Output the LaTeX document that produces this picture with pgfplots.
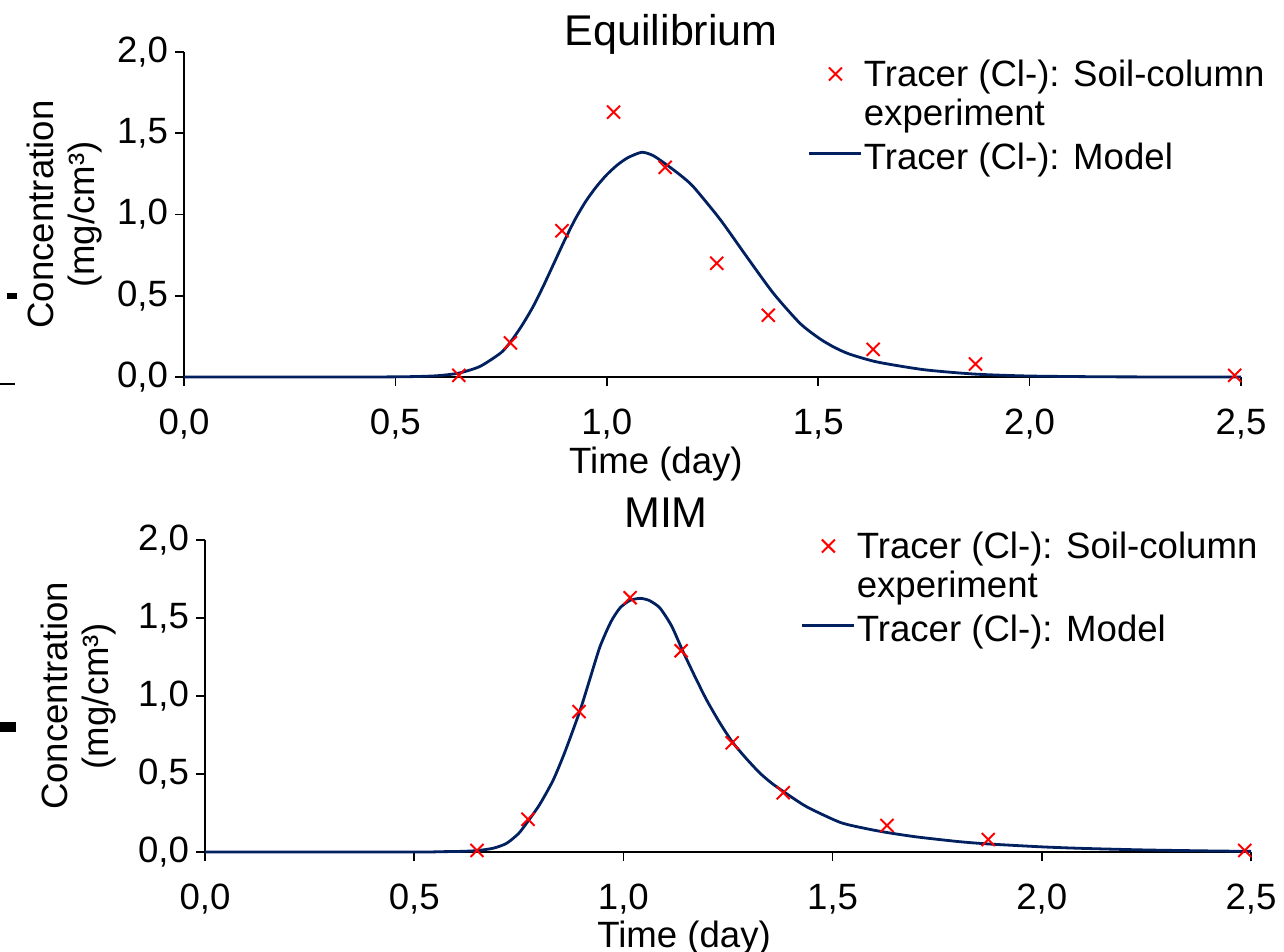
\documentclass[border=0pt]{standalone}
\usepackage{pgfplots}
\pgfplotsset{compat=1.18}
\usepackage{pgfplotstable}
\usepackage{fontspec}
\setmainfont{Liberation Sans}
\definecolor{modelblue}{RGB}{0,32,96}
\definecolor{markred}{RGB}{255,0,0}
\newcommand\ff{\fontsize{18.3}{22}\selectfont}

\pgfplotstableread{
x y
0.650 0.01
0.772 0.21
0.894 0.90
1.016 1.63
1.138 1.29
1.260 0.70
1.382 0.38
1.630 0.17
1.872 0.08
2.485 0.01
}\exptable

\pgfplotstableread{
x y
0.000 0.000
0.400 0.000
0.500 0.001
0.550 0.003
0.600 0.008
0.650 0.024
0.700 0.065
0.750 0.150
0.775 0.225
0.800 0.320
0.825 0.430
0.850 0.560
0.875 0.700
0.900 0.840
0.925 0.970
0.950 1.080
0.975 1.170
1.000 1.245
1.025 1.305
1.050 1.350
1.083 1.383
1.110 1.362
1.142 1.305
1.175 1.240
1.205 1.170
1.268 0.970
1.331 0.740
1.394 0.515
1.457 0.330
1.504 0.235
1.540 0.180
1.575 0.140
1.640 0.092
1.750 0.045
1.870 0.018
2.000 0.006
2.200 0.001
2.500 0.000
}\eqmodel

\pgfplotstableread{
x y
0.000 0.000
0.500 0.000
0.562 0.002
0.610 0.004
0.651 0.009
0.690 0.025
0.721 0.056
0.750 0.120
0.774 0.205
0.800 0.305
0.832 0.460
0.860 0.640
0.896 0.904
0.920 1.110
0.944 1.316
0.970 1.475
0.992 1.565
1.015 1.612
1.040 1.626
1.062 1.612
1.087 1.565
1.115 1.450
1.142 1.288
1.170 1.130
1.199 0.974
1.230 0.830
1.261 0.703
1.295 0.595
1.327 0.504
1.355 0.440
1.385 0.383
1.438 0.290
1.518 0.190
1.580 0.150
1.630 0.125
1.700 0.097
1.800 0.067
1.870 0.052
2.000 0.033
2.100 0.023
2.250 0.013
2.400 0.007
2.500 0.004
}\mimmodel

\pgfplotsset{
  common/.style={
    scale only axis, anchor=south west, clip=false,
    xmin=0, xmax=2.5, ymin=0, ymax=2,
    axis x line*=bottom, axis y line*=left,
    tick align=outside, major tick length=4.5pt,
    xtick={0,0.5,1,1.5,2,2.5}, ytick={0,0.5,1,1.5,2},
    axis line style={line width=0.8pt, black},
    every tick/.style={line width=0.8pt, black},
    tick label style={font=\ff},
    xticklabel style={yshift=-8pt},
    /pgf/number format/use comma,
    /pgf/number format/fixed,
    /pgf/number format/fixed zerofill,
    /pgf/number format/precision=1,
    /pgf/number format/assume math mode=true,
    xlabel={Time (day)},
    ylabel={Concentration\\(mg/cm³)},
    ylabel style={anchor=center, align=center, inner sep=0pt, font=\fontsize{18.3}{20.5}\selectfont},
    title style={anchor=base, inner sep=0pt, font=\fontsize{21.5}{26}\selectfont},
    reverse legend,
    legend cell align=left,
    legend style={draw=none, fill=none, anchor=north west, inner sep=0pt, outer sep=0pt,
      row sep=0pt, column sep=0.5pt, font=\ff, nodes={inner sep=0pt, text depth={}},
      cells={anchor=base west}},
  },
  explegend/.style={legend image code/.code={\draw[##1] plot coordinates {(13pt,6pt)};}},
  modlegend/.style={legend image code/.code={\draw[##1] (0pt,8pt) -- (26pt,8pt);}},
  modelstyle/.style={modelblue, line width=1.4pt, no marks, smooth, tension=0.4, modlegend},
  expstyle/.style={only marks, mark=x, mark size=4.6pt, markred, line width=1pt, explegend},
}

\begin{document}
\begin{tikzpicture}
\path[use as bounding box] (0,0) rectangle (642pt,-476pt);
\fill[black] (3.5pt,-146.5pt) rectangle (8.5pt,-149.5pt);
\fill[black] (0pt,-191.5pt) rectangle (7.5pt,-192.5pt);
\fill[black] (0pt,-361pt) rectangle (8pt,-366pt);

\begin{axis}[common,
  at={(92pt,-188.5pt)}, width=528.5pt, height=162.5pt,
  title={Equilibrium},
  title style={at={(axis description cs:0.461,1)}, yshift=-3pt},
  xlabel style={at={(axis description cs:0.4465,0)}, anchor=base, yshift=-48pt, inner sep=0pt, font=\ff},
  ylabel style={at={(axis description cs:-0.1126,0.5)}},
  legend style={at={(axis description cs:0.5904,0.9815)}},
]
\addplot[modelstyle] table[x=x,y=y] {\eqmodel};
\addlegendentry{\rule{0pt}{17pt}Tracer (Cl-): Model}
\addlegendimage{empty legend}
\addlegendentry{\rule[-5.25pt]{0pt}{19.25pt}experiment}
\addplot[expstyle] table[x=x,y=y] {\exptable};
\addlegendentry{\rule[-5.5pt]{0pt}{19.5pt}Tracer (Cl-): Soil-column}
\end{axis}

\begin{axis}[common,
  at={(102.5pt,-426pt)}, width=523pt, height=156pt,
  title={MIM},
  title style={at={(axis description cs:0.4407,1)}, yshift=0.5pt},
  xlabel style={at={(axis description cs:0.458,0)}, anchor=base, yshift=-47.5pt, inner sep=0pt, font=\ff},
  ylabel style={at={(axis description cs:-0.1205,0.5)}},
  legend style={at={(axis description cs:0.5698,1.032)}},
]
\addplot[modelstyle] table[x=x,y=y] {\mimmodel};
\addlegendentry{\rule{0pt}{17pt}Tracer (Cl-): Model}
\addlegendimage{empty legend}
\addlegendentry{\rule[-5.25pt]{0pt}{19.25pt}experiment}
\addplot[expstyle] table[x=x,y=y] {\exptable};
\addlegendentry{\rule[-5.5pt]{0pt}{19.5pt}Tracer (Cl-): Soil-column}
\end{axis}
\end{tikzpicture}
\end{document}
